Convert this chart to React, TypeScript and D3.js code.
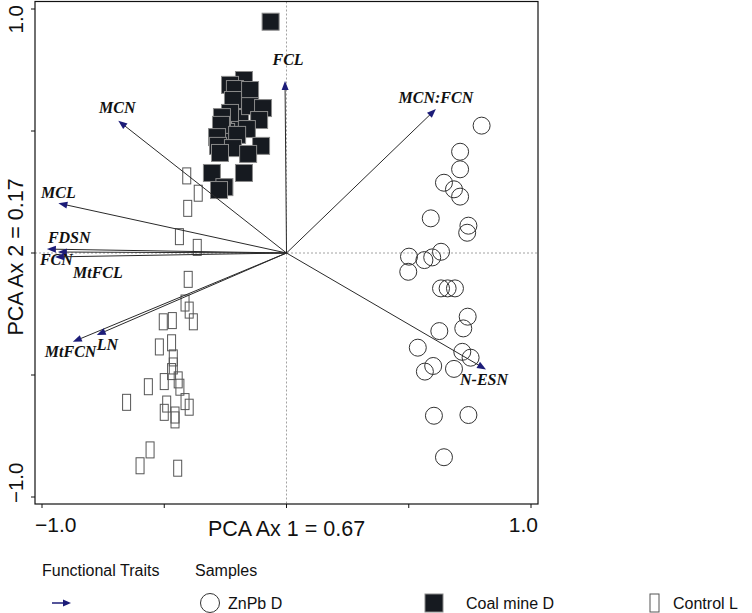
import React from "react";
import * as d3 from "d3";

// ---- data (PCA scores, data units) ----
const coalMineD: [number, number][] = [
  [-0.065, 0.948], [-0.19, 0.648], [-0.19, 0.553], [-0.247, 0.496],
  [-0.174, 0.709], [-0.231, 0.689], [-0.211, 0.672], [-0.149, 0.668],
  [-0.219, 0.627], [-0.149, 0.602], [-0.096, 0.594], [-0.231, 0.574],
  [-0.264, 0.557], [-0.112, 0.545], [-0.268, 0.525], [-0.162, 0.508],
  [-0.202, 0.484], [-0.284, 0.475], [-0.28, 0.439], [-0.219, 0.43],
  [-0.104, 0.439], [-0.157, 0.406], [-0.272, 0.41], [-0.305, 0.328],
  [-0.174, 0.328], [-0.254, 0.27], [-0.276, 0.258],
];

const znPbD: [number, number][] = [
  [0.798, 0.522], [0.71, 0.415], [0.71, 0.343], [0.644, 0.288],
  [0.685, 0.261], [0.71, 0.231], [0.59, 0.142], [0.744, 0.112],
  [0.739, 0.083], [0.632, 0.005], [0.501, -0.015], [0.564, -0.029],
  [0.596, -0.018], [0.498, -0.077], [0.632, -0.145], [0.659, -0.145],
  [0.689, -0.145], [0.741, -0.261], [0.723, -0.309], [0.625, -0.32],
  [0.537, -0.388], [0.719, -0.405], [0.753, -0.429], [0.685, -0.475],
  [0.6, -0.463], [0.566, -0.486], [0.603, -0.667], [0.744, -0.664],
  [0.644, -0.837],
];

const controlL: [number, number][] = [
  [-0.408, 0.316], [-0.361, 0.245], [-0.404, 0.183], [-0.438, 0.067],
  [-0.365, 0.023], [-0.402, -0.108], [-0.415, -0.205], [-0.398, -0.234],
  [-0.381, -0.282], [-0.504, -0.282], [-0.467, -0.277], [-0.47, -0.368],
  [-0.52, -0.385], [-0.463, -0.43], [-0.463, -0.463], [-0.47, -0.486],
  [-0.5, -0.527], [-0.443, -0.52], [-0.436, -0.55], [-0.565, -0.548],
  [-0.654, -0.612], [-0.49, -0.619], [-0.415, -0.609], [-0.398, -0.632],
  [-0.5, -0.653], [-0.456, -0.664], [-0.456, -0.684], [-0.558, -0.807],
  [-0.599, -0.872], [-0.445, -0.882],
];

const traitNames = ["FCL", "MCN", "MCL", "FDSN", "FCN", "MtFCL", "MtFCN", "LN", "MCN:FCN", "N-ESN"];
const traitX = [-0.006, -0.688, -0.933, -0.98, -0.935, -0.947, -0.874, -0.776, 0.611, 0.816];
const traitY = [0.705, 0.542, 0.204, 0.016, 0.004, -0.016, -0.364, -0.336, 0.59, -0.477];

const ticks = [-1, -0.5, 0, 0.5, 1];
const xTitle = "PCA Ax 1 = 0.67";
const yTitle = "PCA Ax 2 = 0.17";
const legendTitles = ["Functional Traits", "Samples"];
const groupNames = ["ZnPb D", "Coal mine D", "Control L"];

// ---- label placement (pixel offsets from arrow tip) ----
const labelOffsets: Record<string, { dx: number; dy: number; anchor: string }> = {
  FCL: { dx: 3, dy: -16, anchor: "middle" },
  MCN: { dx: -1, dy: -8, anchor: "middle" },
  MCL: { dx: 0, dy: -5, anchor: "middle" },
  FDSN: { dx: 1, dy: -6, anchor: "start" },
  FCN: { dx: -18, dy: 13, anchor: "start" },
  MtFCL: { dx: 18, dy: 21, anchor: "start" },
  MtFCN: { dx: -28, dy: 15, anchor: "start" },
  LN: { dx: 0, dy: 15, anchor: "start" },
  "MCN:FCN": { dx: 0, dy: -6, anchor: "middle" },
  "N-ESN": { dx: -26, dy: 16, anchor: "start" },
};

const W = 752;
const H = 613;
const frame = { left: 35, right: 538, top: 1.5, bottom: 504 };
const sans = "'Liberation Sans', Arial, sans-serif";
const serif = "'Liberation Serif', 'Times New Roman', serif";
const navy = "#1c1c78";

function arrowHead(x0: number, y0: number, x1: number, y1: number, len = 9, hw = 3.5) {
  const a = Math.atan2(y1 - y0, x1 - x0);
  const bx = x1 - len * Math.cos(a);
  const by = y1 - len * Math.sin(a);
  const px = -Math.sin(a) * hw;
  const py = Math.cos(a) * hw;
  return `${x1},${y1} ${bx + px},${by + py} ${bx - px},${by - py}`;
}

export default function App() {
  const x = d3.scaleLinear().domain([-1, 1]).range([42, 531]);
  const y = d3.scaleLinear().domain([-1, 1]).range([497, 9]);
  const ox = x(0);
  const oy = y(0);

  const sq = 17;
  const rw = 8;
  const rh = 16;

  return (
    <svg
      width={W}
      height={H}
      style={{ position: "absolute", left: 0, top: 0, background: "#fff" }}
    >
      <rect x={0} y={0} width={W} height={H} fill="#fff" />
      {/* dashed zero lines */}
      <line x1={ox} x2={ox} y1={frame.top} y2={frame.bottom} stroke="#8a8a8a" strokeWidth={0.8} strokeDasharray="2,2" />
      <line x1={frame.left} x2={frame.right} y1={oy} y2={oy} stroke="#8a8a8a" strokeWidth={0.8} strokeDasharray="2,2" />

      {/* Control L rectangles */}
      {controlL.map((d, i) => (
        <rect key={"r" + i} x={x(d[0]) - rw / 2} y={y(d[1]) - rh / 2} width={rw} height={rh}
          fill="none" stroke="#555" strokeWidth={1} />
      ))}
      {/* ZnPb D circles */}
      {znPbD.map((d, i) => (
        <circle key={"c" + i} cx={x(d[0])} cy={y(d[1])} r={8.5} fill="none" stroke="#333" strokeWidth={1} />
      ))}
      {/* Coal mine D squares */}
      {coalMineD.map((d, i) => (
        <rect key={"s" + i} x={x(d[0]) - sq / 2} y={y(d[1]) - sq / 2} width={sq} height={sq}
          fill="#161a20" stroke="#8a8a8a" strokeWidth={1} />
      ))}

      {/* trait arrows */}
      {traitNames.map((n, i) => {
        const tx = x(traitX[i]);
        const ty = y(traitY[i]);
        const a = Math.atan2(ty - oy, tx - ox);
        const ex = tx - 7 * Math.cos(a);
        const ey = ty - 7 * Math.sin(a);
        const off = labelOffsets[n];
        return (
          <g key={"a" + n}>
            <line x1={ox} y1={oy} x2={ex} y2={ey} stroke="#2a2a2a" strokeWidth={1} />
            <polygon points={arrowHead(ox, oy, tx, ty)} fill={navy} />
            <text x={tx + off.dx} y={ty + off.dy} textAnchor={off.anchor as any}
              fontFamily={serif} fontStyle="italic" fontWeight="bold" fontSize={16} fill="#111">{n}</text>
          </g>
        );
      })}

      {/* frame */}
      <rect x={frame.left} y={frame.top} width={frame.right - frame.left} height={frame.bottom - frame.top}
        fill="none" stroke="#111" strokeWidth={1.2} />

      {/* x ticks */}
      {ticks.map((t) => (
        <line key={"xt" + t} x1={x(t)} x2={x(t)} y1={frame.bottom} y2={frame.bottom + 4} stroke="#111" strokeWidth={1} />
      ))}
      {/* y ticks */}
      {ticks.map((t) => (
        <line key={"yt" + t} x1={frame.left - 4} x2={frame.left} y1={y(t)} y2={y(t)} stroke="#111" strokeWidth={1} />
      ))}
      {/* tick labels */}
      <text x={frame.left} y={532} fontFamily={sans} fontSize={21} fill="#111">{d3.format(".1f")(ticks[0])}</text>
      <text x={frame.right} y={532} textAnchor="end" fontFamily={sans} fontSize={21} fill="#111">{d3.format(".1f")(ticks[4])}</text>
      <text transform={`translate(23,5) rotate(-90)`} textAnchor="end" fontFamily={sans} fontSize={20.5} fill="#111">{d3.format(".1f")(ticks[4])}</text>
      <text transform={`translate(23,503) rotate(-90)`} textAnchor="start" fontFamily={sans} fontSize={20.5} fill="#111">{d3.format(".1f")(ticks[0])}</text>

      {/* axis titles */}
      <text x={ox} y={536} textAnchor="middle" fontFamily={sans} fontSize={21.5} fill="#111">{xTitle}</text>
      <text transform={`translate(23,${oy + 4}) rotate(-90)`} textAnchor="middle" fontFamily={sans} fontSize={21.5} fill="#111">{yTitle}</text>

      {/* legend */}
      <text x={42} y={576} fontFamily={sans} fontSize={16} fill="#111">{legendTitles[0]}</text>
      <text x={195} y={576} fontFamily={sans} fontSize={16} fill="#111">{legendTitles[1]}</text>
      <line x1={52} y1={603} x2={64} y2={603} stroke={navy} strokeWidth={1.5} />
      <polygon points={arrowHead(52, 603, 71, 603, 8, 3.5)} fill={navy} />

      <circle cx={210} cy={603} r={9.5} fill="none" stroke="#333" strokeWidth={1} />
      <text x={228} y={609} fontFamily={sans} fontSize={16} fill="#111">{groupNames[0]}</text>

      <rect x={425} y={594} width={18} height={18} fill="#161a20" stroke="#8a8a8a" strokeWidth={1} />
      <text x={466} y={609} fontFamily={sans} fontSize={16} fill="#111">{groupNames[1]}</text>

      <rect x={650} y={594} width={9} height={18} fill="none" stroke="#555" strokeWidth={1} />
      <text x={673} y={609} fontFamily={sans} fontSize={16} fill="#111">{groupNames[2]}</text>
    </svg>
  );
}
